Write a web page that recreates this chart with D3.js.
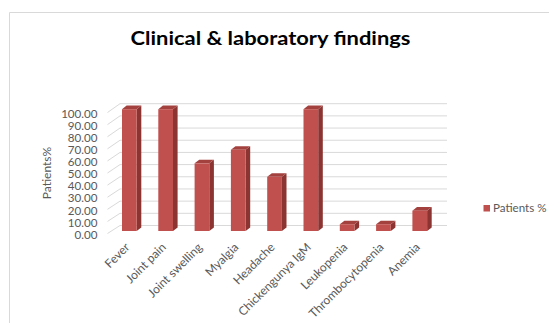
<!DOCTYPE html>
<html><head><meta charset="utf-8">
<script src="https://cdn.jsdelivr.net/npm/d3@7"></script>
<style>body{margin:0;background:#fff}svg{display:block}</style>
</head><body>
<script>
const categories = ["Fever","Joint pain","Joint swelling","Myalgia","Headache","Chickengunya IgM","Leukopenia","Thrombocytopenia","Anemia"];
const patientsPct = [100, 100, 55.56, 66.67, 44.44, 100, 5.56, 5.56, 16.67];
const tickValues = [0,10,20,30,40,50,60,70,80,90,100];
const seriesName = "Patients %";
const titleText = "Clinical & laboratory findings";
const yTitle = "Patients%";

const W = 549, H = 323;
const svg = d3.select("body").append("svg").attr("width", W).attr("height", H);
svg.append("rect").attr("width", W).attr("height", H).attr("fill", "#fff");

// chart border
svg.append("path").attr("d", "M9.5,323V12.5H549").attr("fill", "none").attr("stroke", "#D9D9D9").attr("stroke-width", 1);

// title
svg.append("text").attr("x", 270.5).attr("y", 45).attr("text-anchor", "middle")
  .attr("font-family", "Lato").attr("font-weight", "bold").attr("font-size", 19.5)
  .attr("textLength", 280).attr("lengthAdjust", "spacingAndGlyphs")
  .attr("fill", "#000").text(titleText);

// scales
const backBase = 225.5, barBase = 231, frontBase = 233.5;
const yH = d3.scaleLinear().domain([0, 100]).range([0, 121.8]);
const yLabel = d3.scaleLinear().domain([0, 100]).range([frontBase + 1, frontBase + 1 - 121]);
const x = d3.scaleBand().domain(categories).range([111.2, 437.9]).paddingInner(0.595).paddingOuter(0.2975);
const wallLeft = 120, wallRight = 447, sideLeft = 107.5;
const depthX = 4.6, depthY = 3.6;

// gridlines: side wall diagonals and back wall
const grid = svg.append("g").attr("stroke", "#D9D9D9").attr("stroke-width", 1).attr("fill", "none");
tickValues.forEach(v => {
  const yb = backBase - yH(v), yf = frontBase - yH(v) * (121 / 121.8);
  grid.append("path").attr("d", `M${sideLeft},${yf}L${wallLeft},${yb}H${wallRight}`);
});

// y axis labels
const yAxis = d3.axisLeft(yLabel).tickValues(tickValues).tickFormat(d3.format(".2f")).tickSize(0).tickPadding(0);
const ga = svg.append("g").attr("transform", "translate(97.5,0)").call(yAxis);
ga.select(".domain").remove();
ga.selectAll("text").attr("font-family", "Lato").attr("font-size", 11.6).attr("fill", "#595959");

// y title
svg.append("text").attr("transform", "translate(51,173) rotate(-90)").attr("text-anchor", "middle")
  .attr("font-family", "Lato").attr("font-size", 12).attr("fill", "#595959").text(yTitle);

// bars
const bw = x.bandwidth();
const bars = svg.append("g").selectAll("g").data(categories).join("g");
bars.each(function(c, i) {
  const g = d3.select(this);
  const x0 = x(c), h = yH(patientsPct[i]), yt = barBase - h;
  g.append("path").attr("fill", "#8B3431")
    .attr("d", `M${x0+bw},${barBase}V${yt}L${x0+bw+depthX},${yt-depthY}V${barBase-depthY}Z`);
  g.append("path").attr("fill", "#A3413E")
    .attr("d", `M${x0},${yt}H${x0+bw}L${x0+bw+depthX},${yt-depthY}H${x0+depthX}Z`);
  g.append("rect").attr("x", x0).attr("y", yt).attr("width", bw).attr("height", h).attr("fill", "#C0504D");
});

// x labels
svg.append("g").selectAll("text").data(categories).join("text")
  .attr("transform", c => `translate(${x(c) + bw / 2 + 1},248) rotate(-45)`)
  .attr("text-anchor", "end").attr("font-family", "Lato").attr("font-size", 12).attr("fill", "#595959")
  .text(c => c);

// legend
svg.append("rect").attr("x", 483.5).attr("y", 205).attr("width", 6.5).attr("height", 6.5).attr("fill", "#C0504D");
svg.append("text").attr("x", 493).attr("y", 212).attr("font-family", "Lato").attr("font-size", 11.6)
  .attr("fill", "#595959").text(seriesName);
</script>
</body></html>
